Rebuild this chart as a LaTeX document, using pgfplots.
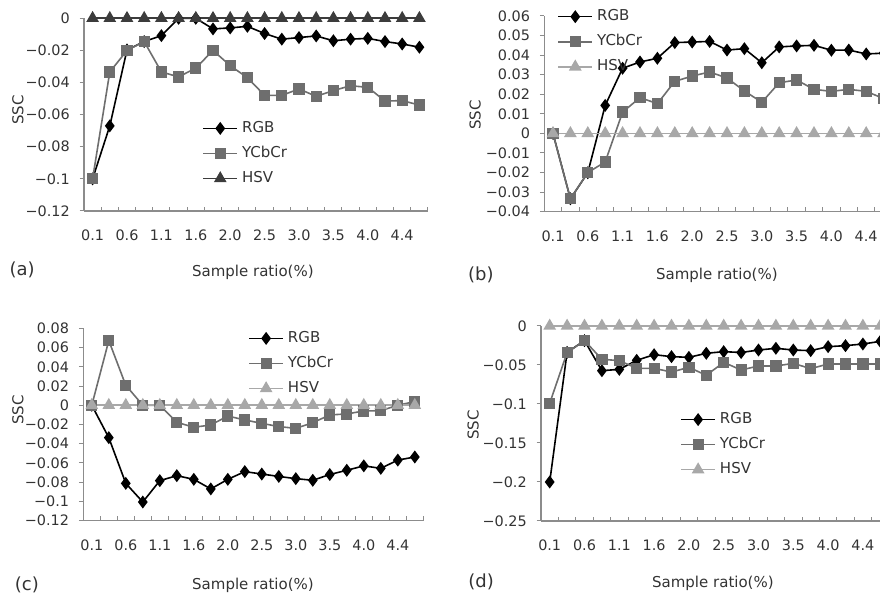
\documentclass[border=0pt]{standalone}
\usepackage{fontspec}
\setmainfont{DejaVu Sans}
\usepackage{pgfplots}
\pgfplotsset{compat=1.18}
\usepackage{pgfplotstable}

\newcommand\tf{\fontsize{7.2}{8.6}\selectfont}
\newcommand\lf{\fontsize{7.5}{9}\selectfont}
\newcommand\pf{\fontsize{9}{10}\selectfont}

\definecolor{axgray}{HTML}{8C8C8C}
\definecolor{txt}{HTML}{333333}
\definecolor{ycc}{HTML}{6E6E6E}
\definecolor{hsvdark}{HTML}{3C3C3C}
\definecolor{hsvlight}{HTML}{A8A8A8}

% panel (a)
\pgfplotstableread{
i rgb ycc hsv
0 -0.1 -0.1 0
1 -0.067 -0.0334 0
2 -0.0197 -0.02 0
3 -0.0145 -0.0145 0
4 -0.0108 -0.0334 0
5 0 -0.0365 0
6 0 -0.031 0
7 -0.0066 -0.02 0
8 -0.006 -0.0295 0
9 -0.005 -0.037 0
10 -0.0095 -0.048 0
11 -0.013 -0.048 0
12 -0.012 -0.044 0
13 -0.011 -0.0486 0
14 -0.014 -0.045 0
15 -0.013 -0.042 0
16 -0.0125 -0.043 0
17 -0.0145 -0.0515 0
18 -0.016 -0.0513 0
19 -0.018 -0.054 0
}\dataA

% panel (b)
\pgfplotstableread{
i rgb ycc hsv
0 0 0 0
1 -0.0334 -0.0334 0
2 -0.0201 -0.02 0
3 0.0143 -0.0146 0
4 0.0333 0.0109 0
5 0.0365 0.0183 0
6 0.0384 0.0152 0
7 0.0464 0.0266 0
8 0.0467 0.0293 0
9 0.047 0.0314 0
10 0.0426 0.0283 0
11 0.0433 0.0217 0
12 0.0361 0.0159 0
13 0.0442 0.0259 0
14 0.0447 0.0273 0
15 0.045 0.0225 0
16 0.0425 0.0215 0
17 0.0426 0.0225 0
18 0.0406 0.0215 0
19 0.041 0.0178 0
}\dataB

% panel (c)
\pgfplotstableread{
i rgb ycc hsv
0 0 0 0
1 -0.0337 0.0672 0
2 -0.0812 0.0207 0
3 -0.1006 0 0
4 -0.0784 0 0
5 -0.0732 -0.0177 0
6 -0.077 -0.0229 0
7 -0.087 -0.0205 0
8 -0.077 -0.0112 0
9 -0.069 -0.0153 0
10 -0.0715 -0.0188 0
11 -0.074 -0.0222 0
12 -0.0763 -0.024 0
13 -0.078 -0.0181 0
14 -0.072 -0.0101 0
15 -0.0676 -0.009 0
16 -0.063 -0.006 0
17 -0.0656 -0.0056 0
18 -0.057 0 0
19 -0.0538 0.0038 0
}\dataC

% panel (d)
\pgfplotstableread{
i rgb ycc hsv
0 -0.2 -0.0991 0
1 -0.0338 -0.034 0
2 -0.0188 -0.0188 0
3 -0.0573 -0.0427 0
4 -0.0556 -0.0444 0
5 -0.044 -0.0543 0
6 -0.0368 -0.0543 0
7 -0.0393 -0.059 0
8 -0.0402 -0.053 0
9 -0.035 -0.0632 0
10 -0.0329 -0.0466 0
11 -0.034 -0.0564 0
12 -0.0308 -0.0513 0
13 -0.0286 -0.0513 0
14 -0.0308 -0.0479 0
15 -0.0316 -0.0547 0
16 -0.0265 -0.0487 0
17 -0.0252 -0.0487 0
18 -0.0231 -0.0487 0
19 -0.0197 -0.0487 0
}\dataD

\pgfplotsset{
  panel/.style={
    scale only axis, clip=false, anchor=south west,
    axis lines=left, axis line style={-, draw=axgray, line width=0.6pt},
    font=\tf,
    tick label style={text=txt, font=\tf},
    scaled y ticks=false,
    xmin=-0.5, xmax=19.5,
    xtick={-0.5,0.5,...,19.5}, xticklabels={},
    extra x ticks={0,2,...,18},
    extra x tick labels={0.1,0.6,1.1,1.6,2.0,2.5,3.0,3.5,4.0,4.4},
    extra x tick style={major tick length=0pt},
    tick align=inside, major tick length=2.2pt,
    tick style={draw=axgray, line width=0.5pt},
    ytick style={xshift=-2.2pt},
    xticklabel style={yshift=-6pt},
    yticklabel style={xshift=-3.6pt},
    xlabel={Sample ratio(\%)}, ylabel={SSC},
    label style={text=txt, font=\lf},
    legend style={draw=none, fill=none, inner sep=0pt, row sep=1.4pt,
      anchor=north west, font=\lf, text=txt},
    legend cell align=left,
  },
  srgb/.style={black, line width=0.8pt, mark=diamond*, mark size=2.6pt, mark options={fill=black}},
  sycc/.style={ycc, line width=0.8pt, mark=square*, mark size=2.4pt, mark options={fill=ycc}},
  shsv/.style={#1, line width=0.8pt, mark=triangle*, mark size=2.9pt, mark options={fill=#1}},
}

\begin{document}
\begin{tikzpicture}[trim left=0pt, trim right=440pt]
\path (0,0) rectangle (440pt,298pt);

% (a)
\begin{axis}[panel, at={(42pt,192.5pt)}, width=172pt, height=96.35pt,
  ymin=-0.12, ymax=0,
  ytick={-0.12,-0.1,-0.08,-0.06,-0.04,-0.02,0},
  yticklabels={−0.12,−0.1,−0.08,−0.06,−0.04,−0.02,0},
  xlabel style={at={(axis description cs:0.491,-0.317)}, anchor=center},
  ylabel style={at={(axis description cs:-0.192,0.524)}, anchor=center},
  legend style={at={(axis description cs:0.343,0.488)}}]
\addplot[srgb] table[x=i, y=rgb] {\dataA};
\addplot[sycc] table[x=i, y=ycc] {\dataA};
\addplot[shsv=hsvdark] table[x=i, y=hsv] {\dataA};
\legend{RGB,YCbCr,HSV}
\node[text=txt] at (axis description cs:-0.18,-0.306) {\pf (a)};
\end{axis}

% (b)
\begin{axis}[panel, at={(272.15pt,192.15pt)}, width=174pt, height=97.85pt,
  ymin=-0.04, ymax=0.06,
  ytick={-0.04,-0.03,-0.02,-0.01,0,0.01,0.02,0.03,0.04,0.05,0.06},
  yticklabels={−0.04,−0.03,−0.02,−0.01,0,0.01,0.02,0.03,0.04,0.05,0.06},
  xlabel style={at={(axis description cs:0.496,-0.323)}, anchor=center},
  ylabel style={at={(axis description cs:-0.199,0.494)}, anchor=center},
  legend style={at={(axis description cs:0.0365,1.055)}}]
\addplot[srgb] table[x=i, y=rgb] {\dataB};
\addplot[sycc] table[x=i, y=ycc] {\dataB};
\addplot[shsv=hsvlight] table[x=i, y=hsv] {\dataB};
\legend{RGB,YCbCr,HSV}
\node[text=txt] at (axis description cs:-0.182,-0.323) {\pf (b)};
\end{axis}

% (c)
\begin{axis}[panel, at={(41.65pt,37.65pt)}, width=170pt, height=96.2pt,
  ymin=-0.12, ymax=0.08,
  ytick={-0.12,-0.1,-0.08,-0.06,-0.04,-0.02,0,0.02,0.04,0.06,0.08},
  yticklabels={−0.12,−0.1,−0.08,−0.06,−0.04,−0.02,0,0.02,0.04,0.06,0.08},
  xlabel style={at={(axis description cs:0.499,-0.334)}, anchor=center},
  ylabel style={at={(axis description cs:-0.192,0.575)}, anchor=center},
  legend style={at={(axis description cs:0.484,1.007)}}]
\addplot[srgb] table[x=i, y=rgb] {\dataC};
\addplot[sycc] table[x=i, y=ycc] {\dataC};
\addplot[shsv=hsvlight] table[x=i, y=hsv] {\dataC};
\legend{RGB,YCbCr,HSV}
\node[text=txt] at (axis description cs:-0.166,-0.334) {\pf (c)};
\end{axis}

% (d)
\begin{axis}[panel, at={(270.5pt,37.5pt)}, width=174pt, height=97.5pt,
  ymin=-0.25, ymax=0,
  ytick={-0.25,-0.2,-0.15,-0.1,-0.05,0},
  yticklabels={−0.25,−0.2,−0.15,−0.1,−0.05,0},
  xlabel style={at={(axis description cs:0.494,-0.318)}, anchor=center},
  ylabel style={at={(axis description cs:-0.195,0.492)}, anchor=center},
  legend style={at={(axis description cs:0.399,0.579)}}]
\addplot[srgb] table[x=i, y=rgb] {\dataD};
\addplot[sycc] table[x=i, y=ycc] {\dataD};
\addplot[shsv=hsvlight] table[x=i, y=hsv] {\dataD};
\legend{RGB,YCbCr,HSV}
\node[text=txt] at (axis description cs:-0.172,-0.313) {\pf (d)};
\end{axis}
\end{tikzpicture}
\end{document}
